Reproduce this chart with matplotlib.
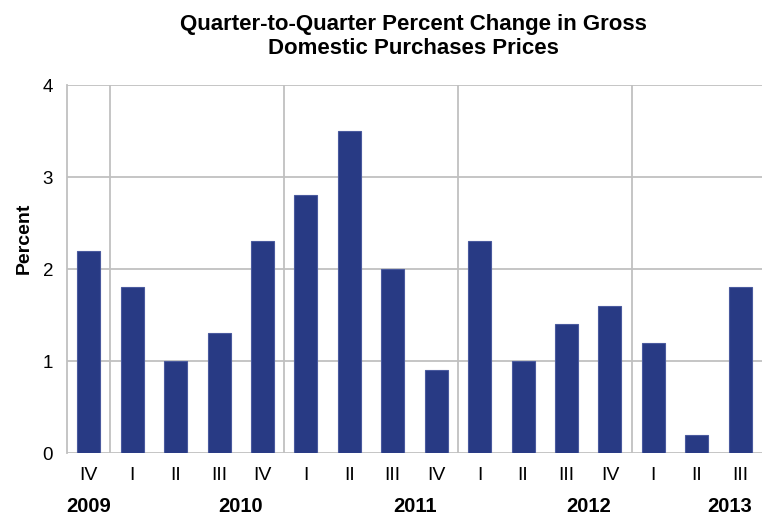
import matplotlib
matplotlib.use("Agg")
import matplotlib.pyplot as plt
import matplotlib.transforms as mtransforms

quarters = ["IV", "I", "II", "III", "IV", "I", "II", "III", "IV",
            "I", "II", "III", "IV", "I", "II", "III"]
values = [2.2, 1.8, 1.0, 1.3, 2.3, 2.8, 3.5, 2.0, 0.9,
          2.3, 1.0, 1.4, 1.6, 1.2, 0.2, 1.8]
years = ["2009", "2010", "2011", "2012", "2013"]
year_pos = [0, 3.5, 7.5, 11.5, 14.75]
year_breaks = [0.5, 4.5, 8.5, 12.5]
yticks = [0, 1, 2, 3, 4]

plt.rcParams['font.family'] = ['Liberation Sans', 'DejaVu Sans']

W, H = 772, 515
fig = plt.figure(figsize=(W / 100, H / 100), dpi=100)
ax = fig.add_axes([67 / W, (H - 453) / H, (762 - 67) / W, (453 - 85) / H])

x = list(range(len(values)))
ax.bar(x, values, width=0.53, color="#283A84", edgecolor="#4A5A9E",
       linewidth=0.8, zorder=3)

ax.set_xlim(-0.5, len(values) - 0.5)
ax.set_ylim(0, 4)
ax.set_yticks(yticks)
ax.set_yticklabels([str(t) for t in yticks], fontsize=13.5)
ax.tick_params(axis='y', length=0, pad=10)
ax.set_xticks([])

grid_c = "#C0C0C0"
for t in yticks:
    ax.axhline(t, color=grid_c, linewidth=1.3, zorder=1)
for b in year_breaks:
    ax.axvline(b, color=grid_c, linewidth=1.3, zorder=1)

for s in ["top", "right", "bottom"]:
    ax.spines[s].set_visible(False)
ax.spines["left"].set_color(grid_c)
ax.spines["left"].set_linewidth(1.3)

trans = mtransforms.blended_transform_factory(ax.transData, fig.transFigure)
for xi, q in zip(x, quarters):
    ax.text(xi, 1 - 475 / H, q, transform=trans, ha="center", va="center",
            fontsize=14)
for xp, yr in zip(year_pos, years):
    ax.text(xp, 1 - 507 / H, yr, transform=trans, ha="center", va="center",
            fontsize=14.5, fontweight="bold")

fig.text(24 / W, 1 - 238 / H, "Percent", rotation=90, ha="center",
         va="center", fontsize=14, fontweight="bold")

fig.text(413 / W, 1 - 36.5 / H,
         "Quarter-to-Quarter Percent Change in Gross\nDomestic Purchases Prices",
         ha="center", va="center", fontsize=16, fontweight="bold",
         linespacing=1.2)

fig.savefig("out.png", dpi=100)
